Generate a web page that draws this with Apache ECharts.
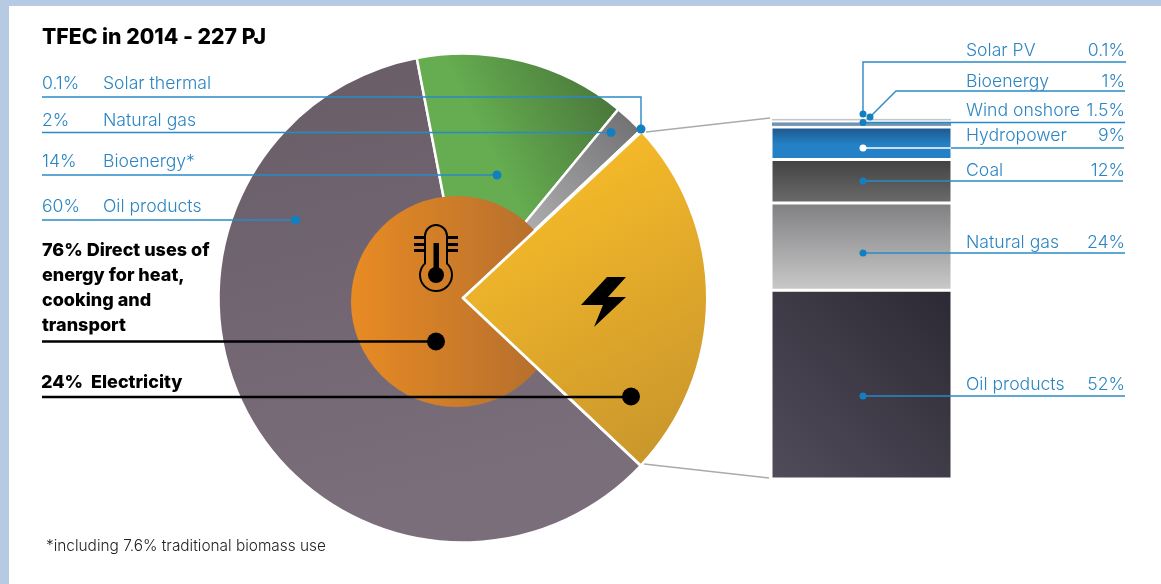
<!DOCTYPE html>
<html><head><meta charset="utf-8">
<style>html,body{margin:0;padding:0;background:#fff}#c{width:1161px;height:584px}</style>
<script src="https://cdn.jsdelivr.net/npm/echarts@6/dist/echarts.min.js"></script>
</head><body><div id="c"></div>
<script>
// ---- data ----
const pieNames = ['Electricity','Oil products','Bioenergy*','Natural gas','Solar thermal'];
const pieValues = [24,60,14,2,0.1];
const directUses = 76;
const electricity = 24;
const barNames = ['Oil products','Natural gas','Coal','Hydropower','Wind onshore','Bioenergy','Solar PV'];
const barValues = [52,24,12,9,1.5,1,0.1];
const barCategory = ['Electricity'];
const leftLabels = ['0.1%','2%','14%','60%'];
const leftNames = ['Solar thermal','Natural gas','Bioenergy*','Oil products'];
const rightNames = ['Solar PV','Bioenergy','Wind onshore','Hydropower','Coal','Natural gas','Oil products'];
const rightLabels = ['0.1%','1%','1.5%','9%','12%','24%','52%'];

const FONT = 'Inter, "Open Sans", sans-serif';
const BLUE = '#2a85c2', LINE = '#2a8ac6', DOT = '#1280c0';
const lin = (x,y,x2,y2,c1,c2,m)=>({type:'linear',x,y,x2,y2,global:false,colorStops:m?[{offset:0,color:c1},{offset:.55,color:m},{offset:1,color:m}]:[{offset:0,color:c1},{offset:1,color:c2}]});
const glob = (x,y,x2,y2,c1,c2)=>({type:'linear',x,y,x2,y2,global:true,colorStops:[{offset:0,color:c1},{offset:1,color:c2}]});

const sliceColors = {
 'Oil products': glob(300,100,400,500,'#6a5e69','#7b6e7b'),
 'Bioenergy*': glob(490,150,610,90,'#65ad50','#4a773b'),
 'Natural gas': glob(530,220,640,115,'#aaaaad','#6f6e70'),
 'Solar thermal': '#6f6e70'
};
const barColors = [
 lin(1,0,0,1,'#2c2934','#514c5a'),
 lin(0,0,0,1,'#808083','#c9c9c9'),
 lin(0,0,0,1,'#434243','#6c6b6c'),
 lin(0,0,0,1,'#1d558a','#2481c5','#2481c5'),
 '#6f93b0','#c4c6cb','#c4c6cb'
];
const CENTER = [463,298], START = 43, R = 244.5;
const outerData = pieNames.map((n,i)=> n==='Electricity'
  ? {name:n,value:pieValues[i],itemStyle:{color:'transparent',borderWidth:0}}
  : {name:n,value:pieValues[i],itemStyle:{color:sliceColors[n]}});
const base = {type:'pie',animation:false,silent:true,label:{show:false},labelLine:{show:false},emphasis:{disabled:true},avoidLabelOverlap:false,clockwise:true};

const series = [
 Object.assign({},base,{center:CENTER,radius:[0,R],startAngle:START,z:2,
   itemStyle:{borderColor:'#fff',borderWidth:2.5},data:outerData}),
 Object.assign({},base,{center:[456.5,301.5],radius:[0,105.5],z:3,
   itemStyle:{color:glob(351,0,560,0,'#e88b24','#b06c2e')},data:[{name:'Direct uses',value:directUses}]}),
 Object.assign({},base,{center:CENTER,radius:[0,R],startAngle:START,z:4,data:[
   {name:'Electricity',value:electricity,itemStyle:{color:glob(555,190,695,440,'#f3b829','#c9962c'),borderColor:'#fff',borderWidth:3}},
   {name:'rest',value:pieValues.reduce((a,b)=>a+b,0)-electricity,itemStyle:{color:'transparent'}}]}),
];
barNames.forEach((n,i)=>{
  const thin = barValues[i] < 2;
  series.push({type:'bar',name:n,stack:'e',xAxisIndex:0,yAxisIndex:0,barWidth:'100%',animation:false,silent:true,z:2,
    itemStyle:{color:barColors[i],borderColor:'#fff',borderWidth:thin?1:1.5},data:[barValues[i]]});
});

// ---- annotations ----
const g = [];
const rect=(x,y,w,h,f,z)=>g.push({type:'rect',shape:{x,y,width:w,height:h},style:{fill:f},z:z||0,silent:true});
rect(0,0,1161,6,'#b7cae4');rect(0,0,9,584,'#b7cae4');
const line=(pts,color,w)=>g.push({type:'polyline',shape:{points:pts},style:{stroke:color,lineWidth:w||1.4,fill:null},z:100,silent:true});
const dot=(x,y,r,f,z)=>g.push({type:'circle',shape:{cx:x,cy:y,r},style:{fill:f||DOT},z:z||101,silent:true});
const text=(x,y,s,o)=>g.push({type:'text',x,y,style:Object.assign({text:s,font:'300 17.6px '+FONT,fill:BLUE,textVerticalAlign:'middle',textAlign:'left'},o||{}),z:102,silent:true});
const BOLD='800 18px '+FONT;

text(42,38,'TFEC in 2014 - 227 PJ',{font:'800 21.2px '+FONT,fill:'#000'});
const leftY=[84,121,162,207];
leftLabels.forEach((t,i)=>{text(42,leftY[i],t);text(103,leftY[i],leftNames[i]);});
line([[42,97],[641,97],[641,129]],LINE);dot(641,129,4.5);
line([[42,132.5],[611,132.5]],LINE);dot(611,132.5,4.5);
line([[42,175],[497,175]],LINE);dot(497,175,4.5);
line([[42,220],[295.5,220]],LINE);dot(295.5,220,4.5);

['76% Direct uses of','energy for heat,','cooking and','transport'].forEach((t,i)=>text(42,251+i*25,t,{font:BOLD,fill:'#000'}));
line([[42,341.5],[436,341.5]],'#000',2.5);dot(436,341.5,9,'#000');
text(41,383,'24%  Electricity',{font:BOLD,fill:'#000'});
line([[42,397],[631,397]],'#000',2.5);dot(631,396.5,9,'#000');
text(46,546,'*including 7.6% traditional biomass use',{font:'300 15.4px '+FONT,fill:'#222'});

// connector lines
line([[646,132],[770,118]],'#aaa',1.3);
line([[644,464],[769,478]],'#aaa',1.3);

// right side
const rightY=[51,82,111,136,171,243,385];
rightNames.forEach((t,i)=>{text(966,rightY[i],t);text(1125,rightY[i],rightLabels[i],{textAlign:'right'});});
line([[1126,62],[863,62],[863,114]],LINE);dot(863,114,3.5);
line([[1125,91],[896,91],[870,117]],LINE);dot(870,117,3.5);
line([[863,122.5],[1125,122.5]],LINE);dot(863,122.5,3.5);
line([[863,148],[951,148]],'#fff');line([[951,148],[1124,148]],LINE);dot(863,148,3.5,'#fff');
line([[863,181],[1123,181]],LINE);dot(863,181,3.5);
line([[863,253],[1125,253]],LINE);dot(863,253,3.5);
line([[863,396],[1125,396]],LINE);dot(863,396,3.5);

// thermometer icon
const ICON={stroke:'#000',lineWidth:2,fill:null};
g.push({type:'arc',shape:{cx:436,cy:236,r:11,startAngle:Math.PI,endAngle:2*Math.PI,clockwise:true},style:ICON,z:103,silent:true});
g.push({type:'arc',shape:{cx:436,cy:275,r:16,startAngle:-0.75,endAngle:Math.PI+0.75,clockwise:true},style:ICON,z:103,silent:true});
line([[425,236],[425,264.5]],'#000',2);line([[447,236],[447,264.5]],'#000',2);
rect(433.5,243,5.5,28,'#000',103);dot(436,275,8,'#000',103);
[236,243,249].forEach(y=>{rect(414,y,10,3,'#000',103);rect(448,y,10,3,'#000',103);});
// bolt icon
g.push({type:'polygon',shape:{points:[[626,277],[607,277],[581,305],[603,305],[594,327],[626,297],[608,297]]},style:{fill:'#000'},z:103,silent:true});

const chart = echarts.init(document.getElementById('c'),null,{renderer:'canvas'});
chart.setOption({
  animation:false,backgroundColor:'#fff',
  grid:{left:771,width:181,top:116,height:363,containLabel:false},
  xAxis:{type:'category',data:barCategory,show:false},
  yAxis:{type:'value',min:0,max:100,show:false},
  series,
  graphic:{elements:g}
});
</script></body></html>
